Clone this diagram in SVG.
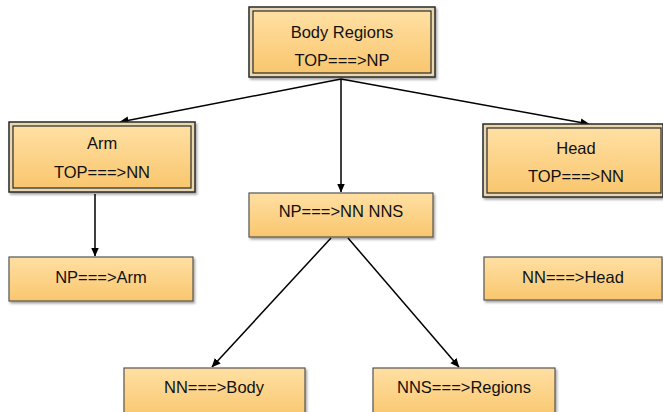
<svg xmlns="http://www.w3.org/2000/svg" width="663" height="412" viewBox="0 0 663 412">
<defs>
<linearGradient id="g" x1="0" y1="0" x2="0" y2="1">
<stop offset="0" stop-color="#FFE0A3"/>
<stop offset="1" stop-color="#F9C66E"/>
</linearGradient>
<marker id="ah" markerWidth="9" markerHeight="9" refX="8.5" refY="4.5" orient="auto" markerUnits="userSpaceOnUse">
<path d="M0,0.5 L9,4.5 L0,8.5 z" fill="#000"/>
</marker>
<filter id="sh" x="-5%" y="-5%" width="115%" height="120%">
<feDropShadow dx="1.5" dy="2" stdDeviation="1.2" flood-color="#000" flood-opacity="0.35"/>
</filter>
</defs>
<style>
.box{fill:url(#g);stroke:#555;stroke-width:1.2;filter:url(#sh)}
.outer{fill:#E9D7B0;stroke:#2a2a2a;stroke-width:1.5;filter:url(#sh)}
.inner{fill:url(#g);stroke:#2a2a2a;stroke-width:1.2}
text{font-family:"Liberation Sans",Arial,sans-serif;font-size:16.5px;fill:#111;text-anchor:middle;dominant-baseline:central}
.c{stroke:#000;stroke-width:1.5;fill:none;marker-end:url(#ah)}
</style>
<g id="connectors">
<line class="c" x1="341" y1="79" x2="120" y2="122"/>
<line class="c" x1="341" y1="79" x2="341" y2="192"/>
<line class="c" x1="341" y1="79" x2="589" y2="124"/>
<line class="c" x1="95" y1="194" x2="95" y2="256"/>
<line class="c" x1="331" y1="238" x2="212" y2="367"/>
<line class="c" x1="348" y1="238" x2="459" y2="367"/>
</g>
<g id="n-body-regions">
<rect class="outer" x="249" y="7" width="186" height="70"/>
<rect class="inner" x="253" y="11" width="178" height="62"/>
<text x="342" y="32">Body Regions</text>
<text x="342" y="60">TOP===&gt;NP</text>
</g>
<g id="n-arm">
<rect class="outer" x="9" y="122" width="186" height="70"/>
<rect class="inner" x="13" y="126" width="178" height="62"/>
<text x="102" y="143">Arm</text>
<text x="102" y="172">TOP===&gt;NN</text>
</g>
<g id="n-head">
<rect class="outer" x="483" y="124" width="180" height="73"/>
<rect class="inner" x="487" y="128" width="174" height="65"/>
<text x="576" y="148">Head</text>
<text x="576" y="176">TOP===&gt;NN</text>
</g>
<g id="n-np-arm">
<rect class="box" x="9" y="257" width="184" height="44"/>
<text x="101" y="277">NP===&gt;Arm</text>
</g>
<g id="n-np-nn-nns">
<rect class="box" x="249" y="193" width="184" height="44"/>
<text x="341" y="211">NP===&gt;NN NNS</text>
</g>
<g id="n-nn-head">
<rect class="box" x="484" y="257" width="178" height="43"/>
<text x="573" y="277">NN===&gt;Head</text>
</g>
<g id="n-nn-body">
<rect class="box" x="124" y="368" width="181" height="50"/>
<text x="214" y="387">NN===&gt;Body</text>
</g>
<g id="n-nns-regions">
<rect class="box" x="373" y="368" width="182" height="50"/>
<text x="464" y="387">NNS===&gt;Regions</text>
</g>
</svg>
